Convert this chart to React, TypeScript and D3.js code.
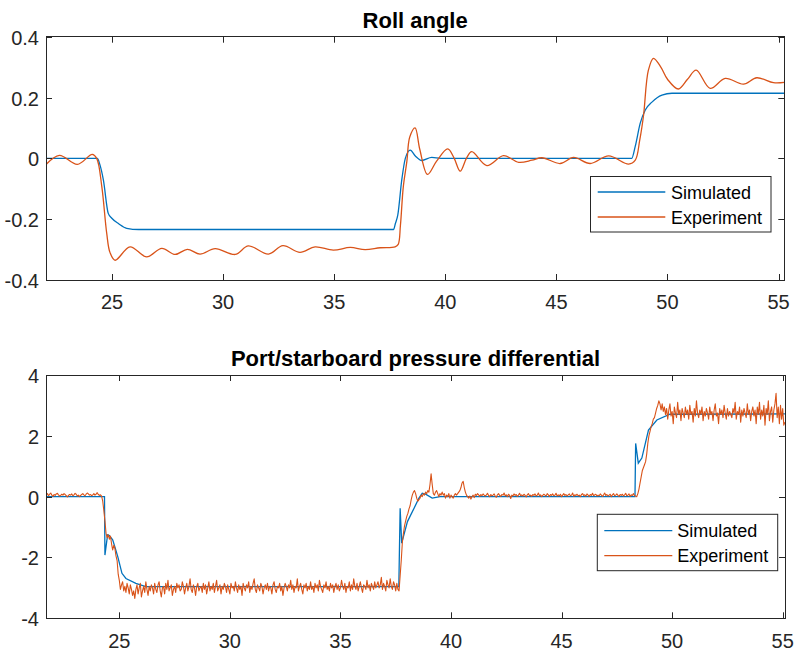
import React from "react";
import * as d3 from "d3";

// ---------- DATA ----------
const xTickValues = [25, 30, 35, 40, 45, 50, 55];
const xTickLabels = ["25", "30", "35", "40", "45", "50", "55"];

const rollTickValues = [-0.4, -0.2, 0, 0.2, 0.4];
const rollTickLabels = ["-0.4", "-0.2", "0", "0.2", "0.4"];
const pressureTickValues = [-4, -2, 0, 2, 4];
const pressureTickLabels = ["-4", "-2", "0", "2", "4"];

const seriesNames = ["Simulated", "Experiment"];
const panelTitles = ["Roll angle", "Port/starboard pressure differential"];

// Roll angle, simulated [time, rad]
const rollSimulated: [number, number][] = [
  [22.03, 0], [24.34, 0], [24.45, -0.02], [24.61, -0.071], [24.83, -0.181], [24.99, -0.197],
  [25.3, -0.215], [25.66, -0.23], [26.2, -0.234], [37.67, -0.234], [37.75, -0.215],
  [37.86, -0.187], [38.04, -0.071], [38.2, 0.0], [38.42, 0.027], [38.65, 0.008],
  [38.94, -0.007], [39.39, 0.003], [39.8, 0], [48.39, 0], [48.55, 0.04], [48.77, 0.115],
  [49.0, 0.159], [49.3, 0.185], [49.75, 0.208], [50.2, 0.214], [55.26, 0.214],
];

// Roll angle, experiment [time, rad]
const rollExperiment: [number, number][] = [
  [22.03, -0.02], [22.63, 0.01], [23.44, -0.02], [24.11, 0.013], [24.31, 0.0], [24.54, -0.093],
  [24.76, -0.246], [24.91, -0.31], [25.14, -0.335], [25.81, -0.291], [26.56, -0.324],
  [27.24, -0.296], [27.84, -0.316], [28.39, -0.299], [28.96, -0.315], [29.64, -0.297],
  [30.54, -0.316], [31.14, -0.288], [32.04, -0.315], [32.69, -0.287], [33.46, -0.309],
  [34.14, -0.291], [34.96, -0.302], [35.72, -0.293], [36.39, -0.3], [37.07, -0.294],
  [37.74, -0.291], [37.88, -0.283], [37.98, -0.22], [38.11, -0.093], [38.27, -0.01],
  [38.4, 0.07], [38.64, 0.1], [38.85, 0.03], [39.2, -0.053], [39.6, -0.01], [40.11, 0.031],
  [40.4, 0.0], [40.67, -0.042], [40.95, 0.0], [41.19, 0.022], [41.87, -0.024], [42.62, 0.009],
  [43.3, -0.013], [43.9, -0.006], [44.35, 0.002], [45.17, -0.017], [45.77, 0.003],
  [46.52, -0.017], [47.35, 0.008], [48.25, -0.019], [48.55, -0.006], [48.75, 0.06],
  [48.92, 0.14], [49.14, 0.29], [49.37, 0.329], [49.7, 0.3], [50.0, 0.26], [50.49, 0.228],
  [50.9, 0.26], [51.29, 0.29], [51.92, 0.23], [52.6, 0.263], [53.42, 0.244], [54.02, 0.265],
  [54.77, 0.249], [55.26, 0.25],
];

// Pressure differential, simulated [time, value]
const pressureSimulated: [number, number][] = [
  [21.69, 0], [24.33, 0], [24.35, -1.92], [24.47, -1.26], [24.55, -1.28], [24.7, -1.42],
  [24.8, -1.65], [24.93, -1.97], [25.12, -2.52], [25.3, -2.69], [25.75, -2.85], [26.2, -2.96],
  [37.64, -2.96], [37.7, -0.38], [37.77, -1.53], [38.03, -0.82], [38.33, -0.38], [38.55, -0.05],
  [38.7, 0.11], [38.85, 0.08], [39.15, -0.05], [39.5, 0.0], [48.32, 0], [48.35, 1.75],
  [48.47, 1.1], [48.63, 1.27], [48.93, 2.19], [49.31, 2.52], [49.9, 2.71], [55.1, 2.72],
];

// Pressure differential, experiment: samples every 0.05 s starting at 21.70 s (20 per row = 1 s)
const pressureExpStart = 21.7;
const pressureExpStep = 0.05;
const pressureExperiment = [
  0.06, 0.10, 0.03, 0.08, 0.12, 0.05, 0.01, 0.07, 0.04, 0.09, 0.11, 0.06, 0.02, 0.04, 0.08, 0.05, 0.10, 0.07, 0.03, -0.01,
  0.04, 0.07, 0.05, 0.09, 0.03, 0.06, 0.11, 0.08, 0.02, 0.05, 0.00, 0.04, 0.07, 0.10, 0.06, 0.03, 0.08, 0.12, 0.09, 0.05,
  0.07, 0.03, 0.06, 0.10, 0.05, 0.08, 0.13, 0.07, 0.04, 0.06, 0.02, -0.15, -0.45, -0.80, -1.20, -1.35, -1.25, -1.40, -1.30, -1.55,
  -1.75, -1.60, -1.70, -1.95, -2.10, -2.55, -2.75, -3.05, -2.90, -2.80, -3.10, -2.95, -3.15, -2.85, -3.00, -3.20, -2.90, -3.05, -3.25, -3.10,
  -3.35, -3.05, -2.90, -3.20, -3.00, -2.85, -3.30, -3.10, -2.95, -3.15, -2.80, -3.05, -3.25, -2.95, -3.10, -2.90, -3.00, -3.20, -2.85, -3.05,
  -3.15, -2.90, -2.80, -3.10, -3.30, -3.00, -2.95, -3.20, -2.85, -3.05, -2.75, -3.10, -3.00, -2.90, -3.25, -3.05, -2.95, -3.15, -2.85, -3.00,
  -2.90, -3.10, -3.05, -2.80, -2.95, -3.20, -3.00, -2.85, -3.10, -2.95, -2.70, -3.05, -3.15, -2.90, -3.00, -3.25, -2.95, -2.85, -3.10, -3.00,
  -2.95, -3.15, -2.85, -3.05, -2.90, -3.20, -3.00, -2.80, -3.10, -2.95, -3.05, -2.85, -3.15, -2.95, -2.75, -3.10, -3.00, -2.90, -3.20, -2.95,
  -3.05, -2.85, -2.95, -3.15, -2.90, -3.05, -3.20, -2.85, -3.00, -2.95, -3.10, -2.80, -3.00, -3.15, -2.90, -3.05, -2.95, -3.25, -2.85, -3.00,
  -3.10, -2.90, -3.00, -2.80, -3.15, -2.95, -3.05, -2.85, -2.70, -3.05, -3.15, -2.90, -3.00, -3.10, -2.85, -2.95, -3.20, -3.00, -2.90, -3.05,
  -2.85, -3.10, -2.95, -3.00, -3.20, -2.90, -2.80, -3.05, -3.15, -2.95, -3.00, -2.85, -3.10, -2.95, -3.25, -3.00, -2.85, -2.95, -3.10, -2.90,
  -3.00, -2.75, -3.05, -2.90, -3.15, -2.95, -3.00, -2.70, -3.10, -2.95, -2.85, -3.05, -3.20, -2.90, -3.00, -2.85, -3.10, -2.95, -3.05, -2.80,
  -3.05, -2.95, -3.15, -2.85, -3.00, -2.90, -3.10, -2.75, -2.95, -3.05, -3.15, -2.90, -3.00, -2.80, -3.05, -2.95, -3.10, -2.85, -3.00, -2.90,
  -3.15, -2.95, -2.85, -3.05, -2.90, -3.10, -3.00, -2.75, -2.95, -3.05, -2.85, -3.15, -2.95, -3.00, -2.80, -3.10, -2.90, -3.05, -2.70, -2.95,
  -3.05, -2.85, -3.10, -2.95, -2.80, -3.00, -3.15, -2.90, -2.95, -3.05, -2.75, -3.00, -2.90, -3.10, -2.85, -2.95, -3.05, -2.80, -3.00, -2.90,
  -2.80, -3.00, -2.90, -2.65, -3.05, -2.85, -2.95, -3.10, -2.75, -2.90, -3.00, -2.70, -2.95, -3.05, -2.80, -2.90, -3.10, -2.85, -3.05, -3.10,
  -2.60, -2.10, -1.50, -1.20, -0.95, -0.80, -0.65, -0.55, -0.40, -0.30, -0.10, 0.05, 0.15, 0.20, 0.10, -0.05, -0.15, -0.10, -0.05, 0.05,
  0.00, 0.10, 0.05, 0.15, 0.10, 0.20, 0.15, 0.40, 0.75, 0.40, 0.10, 0.05, 0.15, 0.20, 0.10, 0.00, 0.10, 0.05, 0.15, 0.05,
  0.10, -0.05, 0.05, 0.00, 0.10, -0.05, 0.05, 0.00, -0.05, 0.05, 0.10, 0.05, 0.10, 0.15, 0.20, 0.30, 0.45, 0.50, 0.30, 0.15,
  0.05, 0.00, -0.05, 0.02, -0.08, 0.00, 0.05, -0.03, 0.08, 0.04, 0.10, 0.06, 0.01, 0.07, 0.03, 0.09, 0.05, 0.02, 0.06, 0.11,
  0.04, 0.00, 0.07, 0.03, 0.05, 0.09, 0.02, -0.02, 0.06, 0.10, 0.04, 0.01, 0.07, 0.05, 0.12, 0.03, 0.06, 0.00, 0.08, 0.04,
  -0.06, 0.05, 0.02, 0.09, 0.04, 0.07, 0.01, 0.05, 0.11, 0.03, 0.06, 0.02, 0.08, 0.04, -0.01, 0.06, 0.10, 0.03, 0.05, 0.01,
  0.07, 0.04, 0.09, 0.02, 0.05, 0.12, 0.03, 0.06, 0.00, 0.04, 0.08, 0.05, 0.02, 0.10, 0.06, 0.01, 0.07, 0.04, 0.09, 0.03,
  0.05, 0.11, 0.02, 0.06, 0.03, 0.08, 0.00, 0.05, 0.10, 0.04, 0.07, 0.02, 0.06, 0.09, 0.03, 0.05, 0.12, 0.01, 0.06, 0.04,
  0.08, 0.03, 0.05, 0.00, 0.07, 0.10, 0.04, 0.06, 0.02, 0.09, 0.05, 0.01, 0.07, 0.04, 0.11, 0.03, 0.06, 0.08, 0.02, 0.05,
  0.03, 0.09, 0.05, 0.01, 0.06, 0.12, 0.04, 0.07, 0.02, 0.05, 0.08, 0.00, 0.06, 0.10, 0.03, 0.05, 0.09, 0.04, 0.01, 0.07,
  0.04, 0.08, 0.02, 0.06, 0.11, 0.03, 0.05, 0.09, 0.01, 0.06, 0.04, 0.10, 0.03, 0.02, 0.00, 0.10, 0.25, 0.45, 0.65, 0.85,
  0.95, 1.05, 1.15, 1.40, 1.75, 2.00, 2.15, 2.30, 2.40, 2.55, 2.60, 2.75, 2.90, 3.00, 3.15, 3.05, 2.85, 3.05, 2.80, 2.95,
  2.70, 2.90, 2.55, 2.85, 3.05, 2.65, 2.80, 2.40, 2.95, 2.75, 2.60, 3.10, 2.70, 2.85, 2.50, 2.90, 2.75, 2.60, 2.95, 2.70,
  2.85, 2.55, 3.00, 2.70, 2.80, 2.45, 2.90, 2.65, 3.15, 2.75, 2.60, 2.85, 2.70, 2.95, 2.50, 2.80, 2.65, 2.90, 2.75, 2.55,
  2.95, 2.70, 2.80, 2.50, 2.85, 3.05, 2.65, 2.75, 2.40, 2.90, 2.70, 2.85, 2.60, 3.00, 2.75, 2.55, 2.90, 2.65, 2.80, 2.70,
  2.60, 2.90, 2.75, 3.10, 2.55, 2.80, 2.70, 2.95, 2.45, 2.85, 2.65, 2.90, 2.75, 2.60, 3.05, 2.70, 2.85, 2.50, 2.80, 2.95,
  2.65, 2.85, 2.40, 2.95, 2.70, 3.10, 2.55, 2.85, 2.65, 3.00, 2.35, 2.90, 2.70, 3.15, 2.50, 2.80, 2.95, 2.45, 2.85, 3.05,
  3.40, 2.60, 2.95, 2.40, 3.00, 2.55, 2.90, 2.35, 2.45,
];

// ---------- STYLE ----------
const BLUE = "#0072BD";
const ORANGE = "#D95319";
const AXIS = "#262626";
const FONT = "'Liberation Sans', Arial, Helvetica, sans-serif";

type PanelProps = {
  title: string;
  left: number; right: number; top: number; bottom: number;
  xDomain: [number, number];
  yDomain: [number, number];
  yTicks: number[]; yLabels: string[];
  sim: [number, number][];
  exp: [number, number][];
  simCurve: d3.CurveFactory;
  expCurve: d3.CurveFactory;
  titleBaseline: number;
  xLabelBaseline: number;
  expWidth: number;
  legend: { x0: number; x1: number; y0: number; y1: number; lx0: number; lx1: number; ly: number[]; tx: number };
  id: string;
};

function Panel(p: PanelProps) {
  const x = d3.scaleLinear().domain(p.xDomain).range([p.left, p.right]);
  const y = d3.scaleLinear().domain(p.yDomain).range([p.bottom, p.top]);
  const line = (curve: d3.CurveFactory) =>
    d3.line<[number, number]>().x((d) => x(d[0])).y((d) => y(d[1])).curve(curve);
  const tl = 6;
  const clipId = "clip-" + p.id;
  return (
    <g>
      <defs>
        <clipPath id={clipId}>
          <rect x={p.left} y={p.top} width={p.right - p.left} height={p.bottom - p.top} />
        </clipPath>
      </defs>
      <text x={(p.left + p.right) / 2} y={p.titleBaseline} textAnchor="middle"
        fontFamily={FONT} fontWeight="bold" fontSize={22} fill="#000">{p.title}</text>
      <g clipPath={`url(#${clipId})`}>
        <path d={line(p.simCurve)(p.sim) || ""} fill="none" stroke={BLUE} strokeWidth={1.3} />
        <path d={line(p.expCurve)(p.exp) || ""} fill="none" stroke={ORANGE} strokeWidth={p.expWidth}
          strokeLinejoin="round" />
      </g>
      <rect x={p.left} y={p.top} width={p.right - p.left} height={p.bottom - p.top}
        fill="none" stroke={AXIS} strokeWidth={1} shapeRendering="crispEdges" />
      {xTickValues.map((v, i) => {
        const xx = Math.round(x(v)) + 0.5;
        return (
          <g key={"x" + v}>
            <line x1={xx} x2={xx} y1={p.bottom} y2={p.bottom - tl} stroke={AXIS} />
            <line x1={xx} x2={xx} y1={p.top} y2={p.top + tl} stroke={AXIS} />
            <text x={x(v)} y={p.xLabelBaseline} textAnchor="middle" fontFamily={FONT}
              fontSize={20} fill={AXIS}>{xTickLabels[i]}</text>
          </g>
        );
      })}
      {p.yTicks.map((v, i) => {
        const yy = Math.round(y(v)) + 0.5;
        return (
          <g key={"y" + v}>
            <line x1={p.left} x2={p.left + tl} y1={yy} y2={yy} stroke={AXIS} />
            <line x1={p.right} x2={p.right - tl} y1={yy} y2={yy} stroke={AXIS} />
            <text x={p.left - 7} y={y(v) + 8} textAnchor="end" fontFamily={FONT}
              fontSize={20} fill={AXIS}>{p.yLabels[i]}</text>
          </g>
        );
      })}
      <rect x={p.legend.x0} y={p.legend.y0} width={p.legend.x1 - p.legend.x0}
        height={p.legend.y1 - p.legend.y0} fill="#fff" stroke={AXIS} strokeWidth={1} />
      {seriesNames.map((name, i) => (
        <g key={name}>
          <line x1={p.legend.lx0} x2={p.legend.lx1} y1={p.legend.ly[i]} y2={p.legend.ly[i]}
            stroke={i === 0 ? BLUE : ORANGE} strokeWidth={1.3} />
          <text x={p.legend.tx} y={p.legend.ly[i] + 6.5} fontFamily={FONT} fontSize={18}
            fill="#000">{name}</text>
        </g>
      ))}
    </g>
  );
}

export default function App() {
  const pressureExpPoints: [number, number][] = pressureExperiment.map((v, i) => [
    pressureExpStart + i * pressureExpStep,
    v,
  ]);
  return (
    <svg width={794} height={650} viewBox="0 0 794 650"
      style={{ position: "absolute", left: 0, top: 0, background: "#fff" }}>
      <rect x={0} y={0} width={794} height={650} fill="#fff" />
      <Panel
        id="roll"
        title={panelTitles[0]}
        left={46} right={784.3} top={36.7} bottom={280}
        xDomain={[22.028, 55.257]}
        yDomain={[-0.4, 0.4]}
        yTicks={rollTickValues} yLabels={rollTickLabels}
        sim={rollSimulated} exp={rollExperiment}
        simCurve={d3.curveMonotoneX}
        expCurve={d3.curveCatmullRom.alpha(0.5)}
        expWidth={1.3}
        titleBaseline={28.3}
        xLabelBaseline={309}
        legend={{ x0: 590.5, x1: 771, y0: 176.5, y1: 232, lx0: 597.7, lx1: 665.3, ly: [192, 217], tx: 671 }}
      />
      <Panel
        id="press"
        title={panelTitles[1]}
        left={46} right={785} top={375} bottom={618.3}
        xDomain={[21.685, 55.104]}
        yDomain={[-4, 4]}
        yTicks={pressureTickValues} yLabels={pressureTickLabels}
        sim={pressureSimulated} exp={pressureExpPoints}
        simCurve={d3.curveLinear}
        expCurve={d3.curveLinear}
        expWidth={1.1}
        titleBaseline={366}
        xLabelBaseline={647.5}
        legend={{ x0: 597.3, x1: 777.7, y0: 514.3, y1: 570.7, lx0: 604.3, lx1: 672.3, ly: [530.7, 555.7], tx: 677.3 }}
      />
    </svg>
  );
}
